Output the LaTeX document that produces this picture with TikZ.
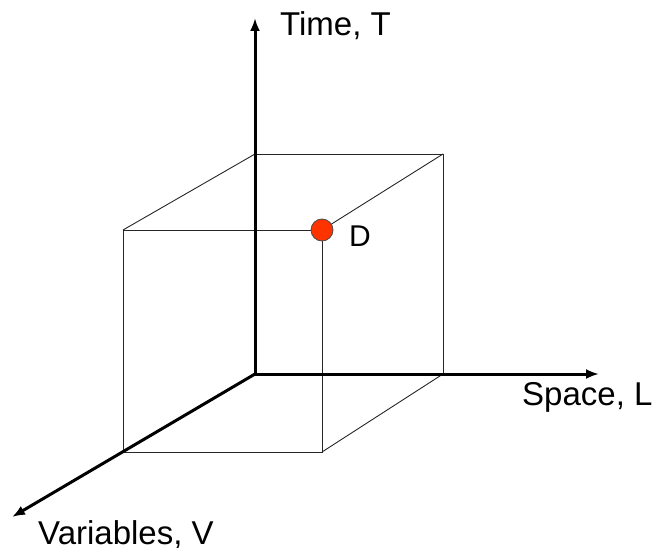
\documentclass[tikz,border=0pt]{standalone}
\usepackage{fontspec}
\setmainfont{Liberation Sans}
\usetikzlibrary{arrows.meta}
\definecolor{dotred}{HTML}{FF3300}
\tikzset{
  axis/.style={line width=3pt,-{Latex[length=13pt,width=10pt]}},
  edge/.style={line width=0.9pt,black!85},
  lbl/.style={anchor=base west,inner sep=0pt,font=\fontsize{33}{38}\selectfont},
}
\begin{document}
\begin{tikzpicture}[x=1pt,y=-1pt]
\useasboundingbox (0,0) rectangle (653,548);
% cube corners
\coordinate (O) at (255,374);
\coordinate (BTL) at (255,154);
\coordinate (BTR) at (443,154);
\coordinate (BBR) at (443,374);
\coordinate (FTL) at (123,230);
\coordinate (FTR) at (322,230);
\coordinate (FBR) at (322,452);
\coordinate (FBL) at (123,452);
% axis tips
\coordinate (Ttip) at (255,18);
\coordinate (Ltip) at (599,374);
\coordinate (Vtip) at (12,517);
% cube edges
\draw[edge] (BTL) -- (BTR) -- (BBR);
\draw[edge] (FTL) -- (FTR) -- (FBR) -- (FBL) -- cycle;
\draw[edge] (BTL) -- (FTL);
\draw[edge] (BTR) -- (FTR);
\draw[edge] (BBR) -- (FBR);
% axes
\draw[axis] (O) -- (Ttip);
\draw[axis] (O) -- (Ltip);
\draw[axis] (O) -- (Vtip);
% point D
\node[circle,fill=dotred,draw=black!70,line width=0.8pt,minimum size=22pt,inner sep=0pt] (D) at (FTR) {};
\node[anchor=base west,inner sep=0pt,font=\fontsize{30}{34}\selectfont] (Dl) at (349,247) {D};
% labels
\node[lbl] (Tl) at (280,36) {Time, T};
\node[lbl] (Ll) at (522,405) {Space, L};
\node[lbl] (Vl) at (38,544) {Variables, V};
\end{tikzpicture}
\end{document}
